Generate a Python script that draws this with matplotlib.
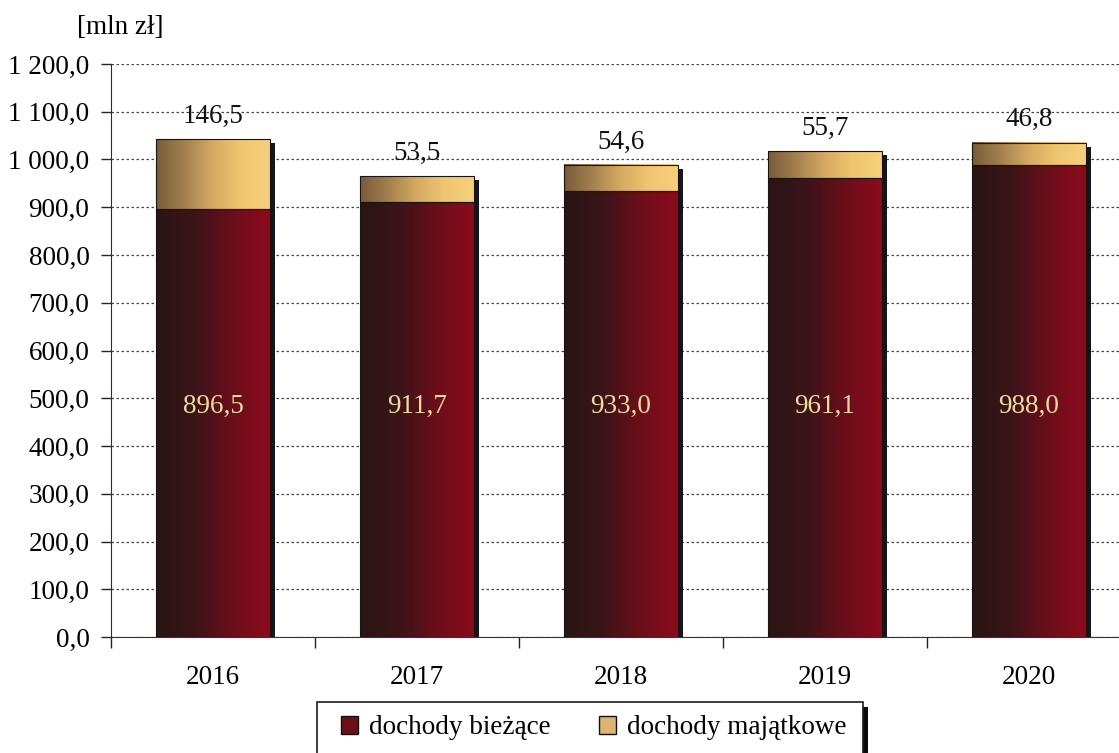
import numpy as np
import matplotlib
matplotlib.use("Agg")
import matplotlib.pyplot as plt
from matplotlib.colors import LinearSegmentedColormap
from matplotlib.patches import Patch, Rectangle

# dane [mln zł]
lata = ["2016", "2017", "2018", "2019", "2020"]
dochody_biezace = [896.5, 911.7, 933.0, 961.1, 988.0]
dochody_majatkowe = [146.5, 53.5, 54.6, 55.7, 46.8]
y_ticks = [0, 100, 200, 300, 400, 500, 600, 700, 800, 900, 1000, 1100, 1200]

plt.rcParams['font.family'] = ['Liberation Serif', 'DejaVu Serif']

W, H = 1119, 753
fig = plt.figure(figsize=(W / 100, H / 100), dpi=100)
fig.patch.set_facecolor('white')
ax = fig.add_axes([111 / W, (H - 637) / H, 1020 / W, 573 / H])

cmap_red = LinearSegmentedColormap.from_list('red', ['#2a1514', '#3a1418', '#6a0e1a', '#8c0b1c'])
cmap_gold = LinearSegmentedColormap.from_list('gold', ['#7a5c3a', '#a3804e', '#d6aa62', '#f0c670', '#f6d07c'])

x = np.arange(len(lata))
w = 0.555
totals = [b + m for b, m in zip(dochody_biezace, dochody_majatkowe)]

# cien slupkow (5 px w prawo, 4 px w dol)
px_x = 5 / 204.0
px_y = 4 / 0.4775
ax.bar(x + px_x, totals, width=w, bottom=-px_y, color='#15151f', zorder=1.5)

bars_b = ax.bar(x, dochody_biezace, width=w, facecolor='none', edgecolor='#1a1010', lw=0.8, zorder=3)
bars_m = ax.bar(x, dochody_majatkowe, width=w, bottom=dochody_biezace,
                facecolor='none', edgecolor='#1a1410', lw=0.8, zorder=3)

grad = np.linspace(0, 1, 256).reshape(1, -1)
for bars, cmap in ((bars_b, cmap_red), (bars_m, cmap_gold)):
    for p in bars:
        x0, y0 = p.get_x(), p.get_y()
        ax.imshow(grad, extent=[x0, x0 + p.get_width(), y0, y0 + p.get_height()],
                  aspect='auto', cmap=cmap, interpolation='bicubic', zorder=2)

# etykiety
for i, (t, m) in enumerate(zip(totals, dochody_majatkowe)):
    ax.annotate(f"{m:.1f}".replace('.', ','), (x[i], t), xytext=(0, 23),
                textcoords='offset pixels', ha='center', va='center', fontsize=19.5, color='#111111')
for i, b in enumerate(dochody_biezace):
    ax.text(x[i], 482, f"{b:.1f}".replace('.', ','), ha='center', va='center',
            fontsize=19.5, color='#eedc9e', zorder=4)

ax.set_xlim(-0.5, len(lata) - 0.5)
ax.set_ylim(0, 1200)
ax.set_yticks(y_ticks)
ax.set_yticklabels([f"{v:,.1f}".replace(',', ' ').replace('.', ',') for v in y_ticks])
ax.set_xticks(x)
ax.set_xticklabels(lata)
ax.set_xticks(np.arange(len(lata) + 1) - 0.5, minor=True)
ax.tick_params(axis='x', which='major', length=0, pad=20, labelsize=19.5)
ax.tick_params(axis='x', which='minor', length=8, width=1, color='#222222', direction='out')
ax.tick_params(axis='y', length=7, width=1, pad=8.5, labelsize=19.5, color='#222233')

ax.yaxis.grid(True, linestyle=(0, (2, 2)), color='#444444', lw=0.9)
ax.set_axisbelow(True)
for s in ('top', 'right'):
    ax.spines[s].set_visible(False)
ax.spines['left'].set_color('#2a2a48')
ax.spines['bottom'].set_color('#333333')

fig.text(77 / W, 1 - 28 / H, "[mln zł]", ha='left', va='center', fontsize=19.5)

# ramka legendy z cieniem
def px_rect(x0, y0, x1, y1, **kw):
    return Rectangle((x0 / W, 1 - y1 / H), (x1 - x0) / W, (y1 - y0) / H,
                     transform=fig.transFigure, **kw)

fig.patches.append(px_rect(322, 707, 868, 770, facecolor='#0a0a0a', edgecolor='none', zorder=1))
fig.patches.append(px_rect(317, 702, 863, 770, facecolor='white', edgecolor='#1a1a2a', lw=1.2, zorder=2))

handles = [Patch(facecolor='#6a0f18', edgecolor='#111111'),
           Patch(facecolor='#dcb470', edgecolor='#111111')]
leg = fig.legend(handles, ["dochody bieżące", "dochody majątkowe"], loc='center left',
                 bbox_to_anchor=(341 / W, 1 - 728 / H), ncol=2, fontsize=19.5,
                 frameon=False, borderpad=0, borderaxespad=0,
                 handlelength=0.62, handleheight=0.62, handletextpad=0.4, columnspacing=1.8)
leg.set_zorder(5)

fig.savefig("out.png", dpi=100)
